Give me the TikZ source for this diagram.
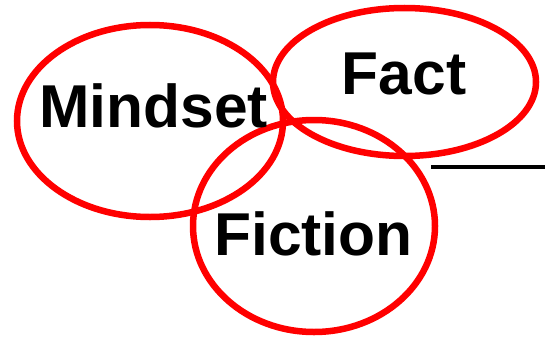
\documentclass[tikz,border=0pt]{standalone}
\usepackage{fontspec}
\setmainfont{Liberation Sans}
\begin{document}
\begin{tikzpicture}[x=1pt,y=-1pt,
  ring/.style={draw=red,line width=6.5pt},
  word/.style={font=\fontsize{60.5}{70}\selectfont\bfseries,anchor=base,inner sep=0pt}]
\useasboundingbox (0,0) rectangle (545,337);
\draw[ring] (150,121) ellipse [x radius=133, y radius=96];
\draw[ring] (404.5,82) ellipse [x radius=131.5, y radius=74];
\draw[ring] (314,226) ellipse [x radius=121, y radius=106];
\coordinate (l1) at (431,167);
\coordinate (l2) at (545,167);
\draw[line width=4.5pt] (l1) -- (l2);
\node[word] (mindset) at (153.5,127) {Mindset};
\node[word] (fact) at (404,94) {Fact};
\node[word] (fiction) at (313.5,255) {Fiction};
\end{tikzpicture}
\end{document}
